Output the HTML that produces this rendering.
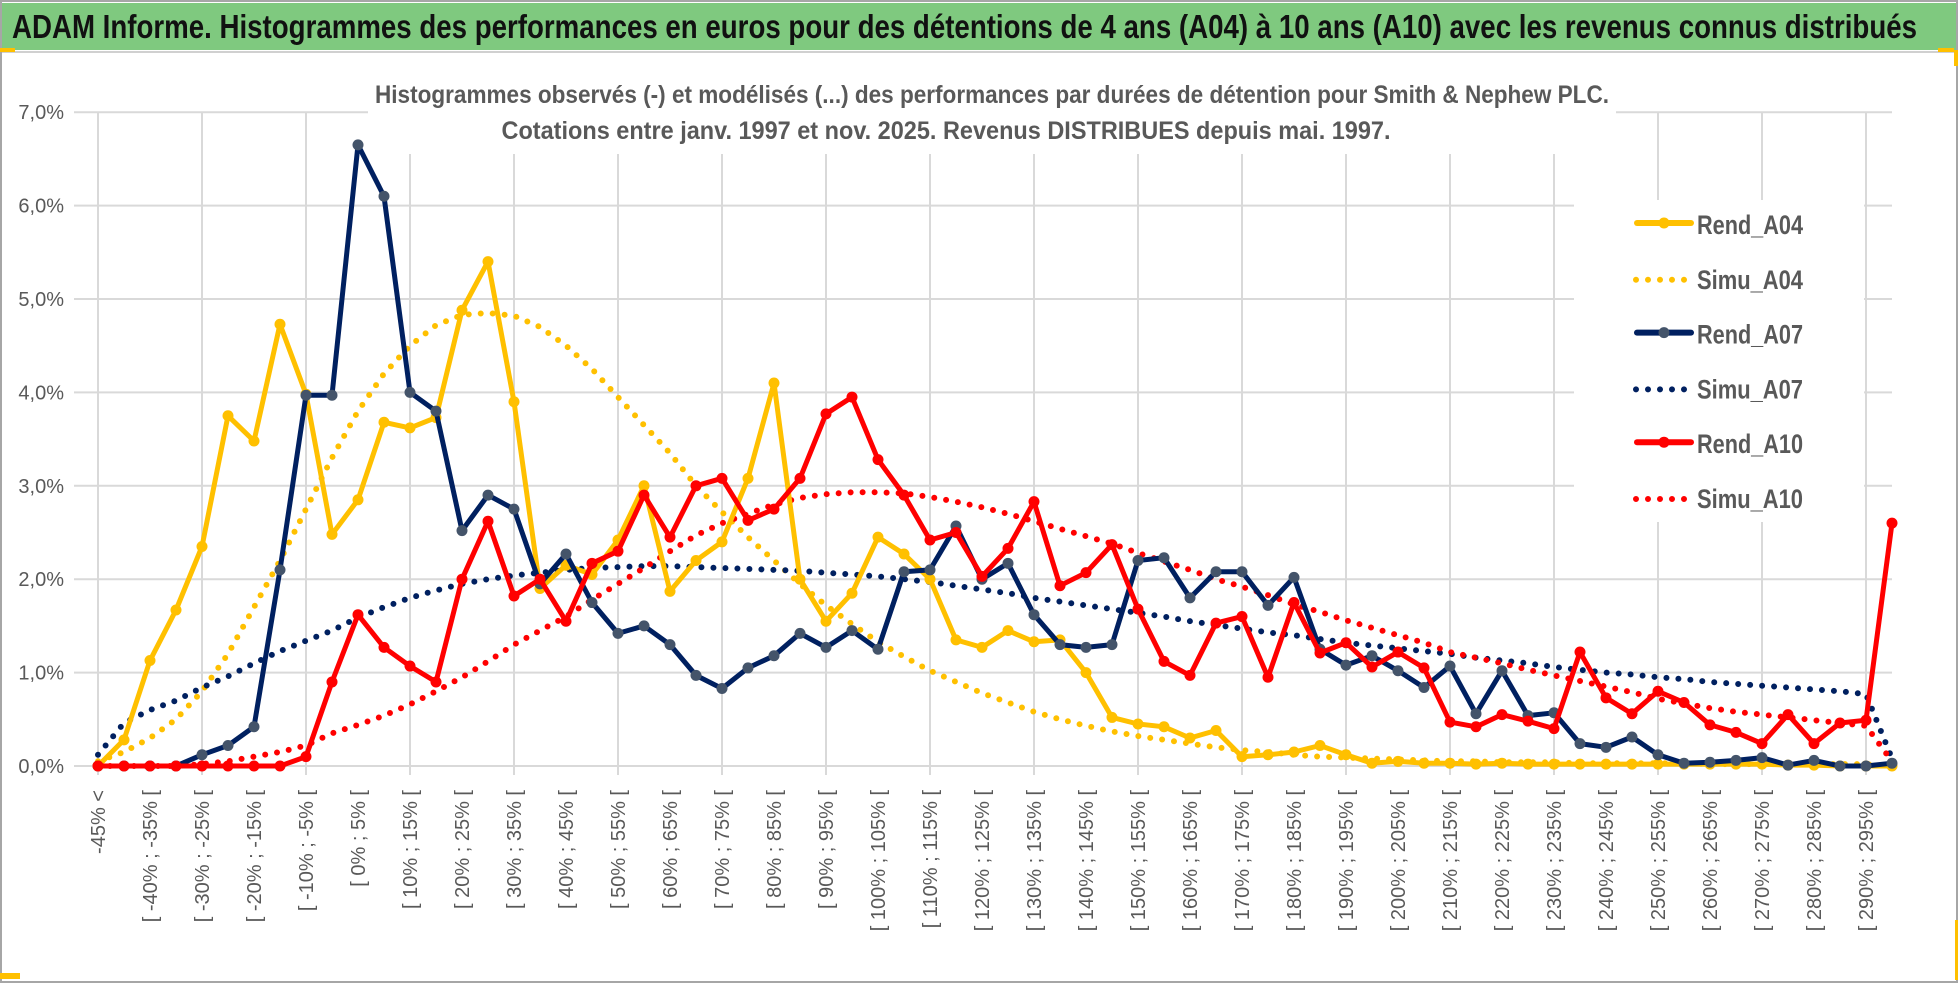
<!DOCTYPE html>
<html><head><meta charset="utf-8">
<style>
html,body{margin:0;padding:0;background:#fff;}
svg{display:block;font-family:"Liberation Sans Narrow","Liberation Sans",sans-serif;}
</style></head>
<body>
<svg id="chart" width="1958" height="983" viewBox="0 0 1958 983" xmlns="http://www.w3.org/2000/svg">
  <rect x="1" y="1" width="1956" height="981" fill="#fff" stroke="#a6a6a6" stroke-width="2"/>
  <rect x="2" y="3" width="1954" height="47" fill="#7fc97f"/>
  <line x1="2" y1="52" x2="1956" y2="52" stroke="#d0d0d0" stroke-width="2"/>
  <rect x="0" y="48" width="15" height="4" fill="#ffc000"/>
  <rect x="1938" y="48" width="16" height="4" fill="#ffc000"/>
  <rect x="1954" y="50" width="4" height="16" fill="#ffc000"/>
  <rect x="1955" y="920" width="3" height="60" fill="#ffc000"/>
  <rect x="0" y="973" width="20" height="6" fill="#ffc000"/>
  <text x="12" y="38" font-size="33" font-weight="bold" fill="#111" textLength="1905" lengthAdjust="spacingAndGlyphs">ADAM Informe. Histogrammes des performances en euros pour des détentions de 4 ans (A04) à 10 ans (A10) avec les revenus connus distribués</text>
  <g id="grid"></g>
  <rect x="368" y="72" width="1248" height="82" fill="#fff"/>
  <text x="992" y="103" font-size="25" font-weight="bold" fill="#595959" text-anchor="middle" textLength="1234" lengthAdjust="spacingAndGlyphs">Histogrammes observés (-) et modélisés (...) des performances par durées de détention pour Smith &amp; Nephew PLC.</text>
  <text x="946" y="139" font-size="25" font-weight="bold" fill="#595959" text-anchor="middle" textLength="889" lengthAdjust="spacingAndGlyphs">Cotations entre janv. 1997 et nov. 2025. Revenus DISTRIBUES depuis mai. 1997.</text>
  <g id="yaxis"></g>
  <g id="xaxis"></g>
  <g id="series"></g>
  <g id="legend"></g>
</svg>
<script>
const categoryStarts = [];
for (let s = -45; s <= 295; s += 5) categoryStarts.push(s);
const yTicks = [0,1,2,3,4,5,6,7];
const yTickLabels = ["0,0%","1,0%","2,0%","3,0%","4,0%","5,0%","6,0%","7,0%"];

const rendA04 = [0,0.28,1.13,1.67,2.35,3.75,3.48,4.73,3.98,2.48,2.85,3.68,3.62,3.73,4.88,5.4,3.9,1.9,2.15,2.05,2.42,3.0,1.87,2.2,2.4,3.08,4.1,2.0,1.55,1.85,2.45,2.27,2.0,1.35,1.27,1.45,1.33,1.35,1.0,0.52,0.45,0.42,0.3,0.38,0.1,0.12,0.15,0.22,0.12,0.03,0.05,0.03,0.03,0.02,0.03,0.02,0.02,0.02,0.02,0.02,0.02,0.02,0.02,0.02,0.02,0.01,0.01,0,0,0];
const simuA04 = [0.05,0.15,0.3,0.5,0.8,1.2,1.7,2.2,2.75,3.3,3.8,4.2,4.5,4.72,4.83,4.85,4.82,4.7,4.5,4.25,3.95,3.65,3.35,3.0,2.72,2.45,2.2,1.95,1.72,1.52,1.33,1.17,1.02,0.9,0.78,0.68,0.58,0.5,0.43,0.37,0.32,0.28,0.24,0.2,0.17,0.15,0.12,0.1,0.09,0.08,0.07,0.06,0.05,0.05,0.04,0.04,0.04,0.03,0.03,0.03,0.03,0.03,0.02,0.02,0.02,0.02,0.02,0.02,0.02,0];
const rendA07 = [0,0,0,0,0.12,0.22,0.42,2.1,3.97,3.97,6.65,6.1,4.0,3.8,2.52,2.9,2.75,1.95,2.27,1.75,1.42,1.5,1.3,0.97,0.83,1.05,1.18,1.42,1.27,1.45,1.25,2.08,2.1,2.57,2.0,2.17,1.62,1.3,1.27,1.3,2.2,2.23,1.8,2.08,2.08,1.72,2.02,1.25,1.08,1.18,1.02,0.84,1.07,0.56,1.02,0.54,0.57,0.24,0.2,0.31,0.12,0.03,0.04,0.06,0.09,0.01,0.06,0,0,0.03];
const simuA07 = [0.12,0.46,0.6,0.7,0.84,0.96,1.1,1.23,1.34,1.45,1.59,1.7,1.8,1.88,1.95,2.0,2.04,2.07,2.1,2.12,2.13,2.14,2.14,2.13,2.12,2.11,2.1,2.09,2.07,2.05,2.03,2.0,1.97,1.93,1.89,1.85,1.8,1.76,1.72,1.68,1.64,1.6,1.55,1.51,1.47,1.43,1.4,1.36,1.32,1.29,1.26,1.23,1.2,1.16,1.13,1.1,1.06,1.03,1.0,0.98,0.95,0.93,0.9,0.88,0.86,0.84,0.82,0.8,0.77,0.08];
const rendA10 = [0,0,0,0,0,0,0,0,0.1,0.9,1.62,1.27,1.07,0.9,2.0,2.62,1.82,2.0,1.55,2.17,2.3,2.9,2.45,3.0,3.08,2.63,2.75,3.08,3.77,3.95,3.28,2.9,2.42,2.5,2.03,2.33,2.83,1.93,2.07,2.37,1.68,1.12,0.97,1.53,1.6,0.95,1.75,1.21,1.32,1.06,1.22,1.05,0.47,0.42,0.55,0.48,0.4,1.22,0.73,0.56,0.8,0.68,0.44,0.36,0.24,0.55,0.24,0.46,0.49,2.6];
const simuA10 = [0,0,0,0,0.02,0.05,0.1,0.15,0.22,0.35,0.44,0.54,0.66,0.8,0.95,1.12,1.3,1.45,1.6,1.78,1.95,2.12,2.3,2.47,2.6,2.7,2.8,2.87,2.91,2.93,2.93,2.92,2.88,2.83,2.77,2.7,2.62,2.54,2.46,2.38,2.28,2.19,2.1,2.0,1.92,1.83,1.73,1.65,1.56,1.48,1.4,1.32,1.22,1.16,1.1,1.03,0.97,0.91,0.85,0.79,0.72,0.67,0.62,0.58,0.55,0.52,0.49,0.46,0.43,0.05];

const seriesNames = ["Rend_A04","Simu_A04","Rend_A07","Simu_A07","Rend_A10","Simu_A10"];

const NS = "http://www.w3.org/2000/svg";
const X0 = 98, DX = 26, Y0 = 766, PPU = 93.4, XR = 1892;
function xPos(i){ return X0 + DX * i; }
function yPos(v){ return Y0 - PPU * v; }
function mk(tag, attrs, parent){
  const el = document.createElementNS(NS, tag);
  for (const k in attrs) el.setAttribute(k, attrs[k]);
  parent.appendChild(el);
  return el;
}
function catLabel(i){
  if (i === 0) return "-45% <";
  const a = categoryStarts[i - 1], b = a + 5;
  return "[ " + a + "% ; " + b + "% [";
}
const N = rendA04.length;

const grid = document.getElementById('grid');
yTicks.forEach(t => {
  const l = mk('line', {x1: 74, x2: XR, y1: yPos(t), y2: yPos(t), stroke: '#d9d9d9', 'stroke-width': 2}, grid);
  
  
});
for (let i = 0; i < N; i += 4) {
  const l = mk('line', {x1: xPos(i), x2: xPos(i), y1: yPos(7), y2: Y0 + 9, stroke: '#d9d9d9', 'stroke-width': 2}, grid);
  
  
}

const yaxis = document.getElementById('yaxis');
yTicks.forEach((t, k) => {
  const tx = mk('text', {x: 64, y: yPos(t) + 7, 'font-size': 20, fill: '#595959', 'text-anchor': 'end', 'font-family': '"Liberation Sans", sans-serif'}, yaxis);
  tx.textContent = yTickLabels[k];
  
  
});

const xaxis = document.getElementById('xaxis');
for (let i = 0; i < N; i += 2) {
  const x = xPos(i) + 7, y = 790;
  const tx = mk('text', {x: x, y: y, 'font-size': 20, fill: '#595959', 'text-anchor': 'end', transform: 'rotate(-90 ' + x + ' ' + y + ')', 'font-family': '"Liberation Sans", sans-serif'}, xaxis);
  tx.textContent = catLabel(i);
  
  
}

const series = document.getElementById('series');
function pathFor(arr){ return arr.map((v,i)=> (i?'L':'M') + xPos(i).toFixed(1) + ' ' + yPos(v).toFixed(1)).join(' '); }
function dotted(arr, color, name){
  const p = mk('path', {d: pathFor(arr), fill: 'none', stroke: color, 'stroke-width': 6, 'stroke-linecap': 'round', 'stroke-dasharray': '0 12'}, series);
  
  
}
function solid(arr, color, marker, name){
  const g = mk('g', {}, series);
  
  
  mk('path', {d: pathFor(arr), fill: 'none', stroke: color, 'stroke-width': 5, 'stroke-linejoin': 'round'}, g);
  arr.forEach((v,i) => {
    const c = mk('circle', {cx: xPos(i), cy: yPos(v), r: 5.5, fill: marker}, g);
    
    
  });
}
dotted(simuA04, '#ffc000', 'simu-a04-line');
dotted(simuA07, '#002060', 'simu-a07-line');
dotted(simuA10, '#ff0000', 'simu-a10-line');
solid(rendA04, '#ffc000', '#ffc000', 'rend-a04-line');
solid(rendA07, '#002060', '#44546a', 'rend-a07-line');
solid(rendA10, '#ff0000', '#ff0000', 'rend-a10-line');

const legend = document.getElementById('legend');
const lbg = mk('rect', {x: 1574, y: 200, width: 290, height: 322, fill: '#fff'}, legend);


const legColors = ['#ffc000','#ffc000','#002060','#002060','#ff0000','#ff0000'];
const legMarks = ['#ffc000',null,'#44546a',null,'#ff0000',null];
seriesNames.forEach((nm, k) => {
  const y = 223 + k * 54.8;
  const g = mk('g', {}, legend);
  
  
  if (legMarks[k]) {
    mk('line', {x1: 1637, x2: 1691, y1: y, y2: y, stroke: legColors[k], 'stroke-width': 6, 'stroke-linecap': 'round'}, g);
    mk('circle', {cx: 1664, cy: y, r: 5.5, fill: legMarks[k]}, g);
  } else {
    mk('line', {x1: 1636, x2: 1690, y1: y + 2, y2: y + 2, stroke: legColors[k], 'stroke-width': 6, 'stroke-linecap': 'round', 'stroke-dasharray': '0 12'}, g);
  }
  const t = mk('text', {x: 1697, y: y + 11, 'font-size': 27, 'font-weight': 'bold', fill: '#595959', textLength: 106, lengthAdjust: 'spacingAndGlyphs'}, g);
  t.textContent = nm;
});
</script>
</body></html>
